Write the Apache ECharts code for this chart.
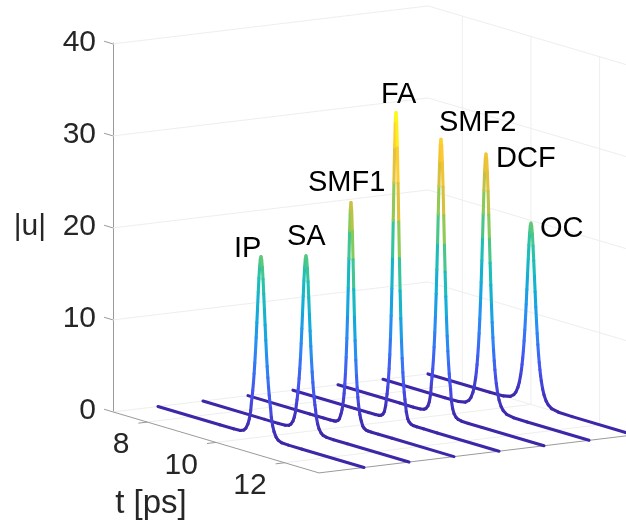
<!DOCTYPE html>
<html>
<head>
<meta charset="utf-8">
<style>html,body{margin:0;padding:0;background:#fff}#c{width:626px;height:525px}</style>
<script src="https://cdn.jsdelivr.net/npm/echarts@6/dist/echarts.min.js"></script>
</head>
<body>
<div id="c"></div>
<script>
// ---------- data ----------
const tTicks = [8, 10, 12];
const uTicks = [0, 10, 20, 30, 40];
const tLimits = [7, 13];
const posLimits = [0, 7];
const pulseNames = ['IP', 'SA', 'SMF1', 'FA', 'SMF2', 'DCF', 'OC'];
const pulsePositions = [1, 2, 3, 4, 5, 6, 7];
const peakTime = 10;
const tSamples = [7,8.8,9.2,9.4,9.5,9.56,9.62,9.66,9.7,9.72,9.74,9.76,9.78,9.8,9.82,9.84,9.86,9.88,9.9,9.92,9.94,9.96,9.98,10,10.02,10.04,10.06,10.08,10.1,10.12,10.14,10.16,10.18,10.2,10.22,10.24,10.26,10.28,10.3,10.34,10.38,10.44,10.5,10.6,10.8,11.2,13];
const uIP = [0,0,0,0.04,0.2,0.47,1,1.6,2.5,3.41,4.04,4.79,5.67,6.68,7.85,9.18,10.67,12.3,13.97,15.65,17.2,18.47,19.31,19.6,19.31,18.47,17.2,15.65,13.97,12.3,10.67,9.18,7.85,6.68,5.67,4.79,4.04,3.41,2.5,1.6,1,0.47,0.2,0.04,0,0,0];
const uSA = [0,0,0,0.03,0.13,0.32,0.71,1.2,1.93,2.64,3.19,3.84,4.63,5.56,6.66,7.95,9.42,11.06,12.84,14.63,16.36,17.79,18.76,19.1,18.76,17.79,16.36,14.63,12.84,11.06,9.42,7.95,6.66,5.56,4.63,3.84,3.19,2.64,1.93,1.2,0.71,0.32,0.13,0.03,0,0,0];
const uSMF1 = [0,0,0,0,0.02,0.06,0.2,0.4,0.89,1.16,1.52,1.98,2.58,3.35,4.37,5.68,7.34,9.43,11.98,14.95,18.17,21.21,23.46,24.3,23.46,21.21,18.17,14.95,11.98,9.43,7.34,5.68,4.37,3.35,2.58,1.98,1.52,1.16,0.89,0.4,0.2,0.06,0.02,0,0,0,0];
const uFA = [0,0,0,0,0.03,0.1,0.3,0.6,1.3,2.02,2.59,3.33,4.26,5.46,6.98,8.9,11.28,14.24,17.74,21.71,25.88,29.71,32.48,33.5,32.48,29.71,25.88,21.71,17.74,14.24,11.28,8.9,6.98,5.46,4.26,3.33,2.59,2.02,1.3,0.6,0.3,0.1,0.03,0,0,0,0];
const uSMF2 = [0,0,0,0.02,0.1,0.25,0.6,1.1,2,3.14,3.87,4.77,5.87,7.2,8.82,10.77,13.06,15.71,18.61,21.8,24.87,27.52,29.35,30,29.35,27.52,24.87,21.8,18.61,15.71,13.06,10.77,8.82,7.2,5.87,4.77,3.87,3.14,2,1.1,0.6,0.25,0.1,0.02,0,0,0];
const uDCF = [0,0,0.03,0.18,0.48,0.84,1.49,2.18,3.18,3.84,4.64,5.59,6.74,8.09,9.7,11.56,13.71,16.1,18.68,21.3,23.81,25.9,27.3,27.8,27.3,25.9,23.81,21.3,18.68,16.1,13.71,11.56,9.7,8.09,6.74,5.59,4.64,3.84,3.18,2.18,1.49,0.84,0.48,0.18,0.03,0,0];
const uOC = [0,0,0.04,0.21,0.51,0.86,1.45,2.04,2.89,3.43,4.06,4.81,5.69,6.72,7.89,9.23,10.73,12.36,14.04,15.72,17.29,18.57,19.4,19.7,19.4,18.57,17.29,15.72,14.04,12.36,10.73,9.23,7.89,6.72,5.69,4.81,4.06,3.43,2.89,2.04,1.45,0.86,0.51,0.21,0.04,0,0];
const pulseValues = [uIP, uSA, uSMF1, uFA, uSMF2, uDCF, uOC];

// ---------- layout and style ----------
const FONT = '"Liberation Sans", Helvetica, Arial, sans-serif';
const TEXT_DARK = '#262626';
const GRID_COLOR = '#eeeeee';
const AXIS_COLOR = '#9a9a9a';
const PARULA = ['#3E26A8','#4752F0','#2D87F7','#11ACDB','#1FC2B0','#7FCB5C','#DDBF3B','#FEC832','#F9FB15'];
const labelOffsets = [[-27,-8],[-19,-19],[-43,-20],[-15,-18],[-2,-16],[10,5],[9,6]];
// oblique view: grid x units per t and per pulse position, grid y units per t and per position
const VIEW = { xPerT: 34.33, xPerPos: 45, yPerT: -1.105, yPerPos: 0.59, yShift: -0.1 };

function project(t, pos, u) {
  const dt = t - tLimits[0];
  return [dt * VIEW.xPerT + pos * VIEW.xPerPos, u + dt * VIEW.yPerT + pos * VIEW.yPerPos + VIEW.yShift];
}

// ---------- box segments ----------
const [t0, t1] = tLimits, [p0, p1] = posLimits;
const uTop = uTicks[uTicks.length - 1];
const gridSegs = [], axisSegs = [];
uTicks.forEach(u => {
  gridSegs.push([t0, p0, u, t0, p1, u], [t0, p1, u, t1, p1, u]);
  axisSegs.push([t0, p0, u, t0 - 0.26, p0, u]);
});
tTicks.forEach(t => {
  gridSegs.push([t, p0, 0, t, p1, 0], [t, p1, 0, t, p1, uTop]);
  axisSegs.push([t, p0, 0, t, p0 - 0.2, 0]);
});
axisSegs.push([t0, p0, 0, t1, p0, 0], [t1, p0, 0, t1, p1, 0]);

function segSeries(name, segs, color) {
  return {
    type: 'custom', name, silent: true, clip: false, data: segs,
    renderItem(params, api) {
      const v = i => api.value(i);
      const a = api.coord(project(v(0), v(1), v(2)));
      const b = api.coord(project(v(3), v(4), v(5)));
      return { type: 'line', shape: { x1: a[0], y1: a[1], x2: b[0], y2: b[1] }, style: { stroke: color, lineWidth: 1 } };
    }
  };
}

const series = [segSeries('grid', gridSegs, GRID_COLOR), segSeries('axes', axisSegs, AXIS_COLOR)];

// pulses: far to near, each segment takes the flat colour of its first sample
const pulseSeriesIdx = [];
for (let k = pulseNames.length - 1; k >= 0; k--) {
  const pos = pulsePositions[k], us = pulseValues[k];
  const rows = [];
  for (let i = 0; i + 1 < tSamples.length; i++) rows.push([tSamples[i], us[i], tSamples[i + 1], us[i + 1]]);
  pulseSeriesIdx.push(series.length);
  series.push({
    type: 'custom', name: pulseNames[k], silent: true, clip: false, data: rows,
    dimensions: ['t', 'u', 't2', 'u2'],
    renderItem(params, api) {
      const a = api.coord(project(api.value(0), pos, api.value(1)));
      const b = api.coord(project(api.value(2), pos, api.value(3)));
      return { type: 'line', shape: { x1: a[0], y1: a[1], x2: b[0], y2: b[1] },
        style: { stroke: api.visual('color'), lineWidth: 3.1, lineCap: 'round' } };
    }
  });
}

// pulse names
series.push({
  type: 'custom', name: 'pulse labels', silent: true, clip: false,
  data: pulseNames.map((n, k) => [k]),
  renderItem(params, api) {
    const k = api.value(0);
    const c = api.coord(project(peakTime, pulsePositions[k], Math.max.apply(null, pulseValues[k])));
    return { type: 'text', style: { text: pulseNames[k], x: c[0] + labelOffsets[k][0], y: c[1] + labelOffsets[k][1],
      fill: '#000', fontSize: 29, fontFamily: FONT, align: 'left', verticalAlign: 'middle' } };
  }
});
// t tick labels + t axis name
series.push({
  type: 'custom', name: 't labels', silent: true, clip: false,
  data: tTicks.map(t => [t]),
  renderItem(params, api) {
    const c = api.coord(project(api.value(0), p0, 0));
    return { type: 'text', style: { text: String(api.value(0)), x: c[0] - 18, y: c[1] + 23,
      fill: TEXT_DARK, fontSize: 30, fontFamily: FONT, align: 'right', verticalAlign: 'middle' } };
  }
});
series.push({
  type: 'custom', name: 't name', silent: true, clip: false,
  data: [[(t0 + t1) / 2]],
  renderItem(params, api) {
    const c = api.coord(project(api.value(0), p0, 0));
    return { type: 'text', style: { text: 't [ps]', x: c[0] - 65, y: c[1] + 61,
      fill: TEXT_DARK, fontSize: 33, fontFamily: FONT, align: 'center', verticalAlign: 'middle' } };
  }
});

const chart = echarts.init(document.getElementById('c'), null, { renderer: 'canvas' });
chart.setOption({
  animation: false,
  backgroundColor: '#fff',
  grid: { left: 113, top: 43, width: 513, height: 368, containLabel: false },
  xAxis: { type: 'value', min: 0, max: 513, show: false },
  yAxis: {
    type: 'value', min: 0, max: uTop, interval: 10,
    axisLine: { show: true, lineStyle: { color: AXIS_COLOR, width: 1 } },
    axisTick: { show: false }, splitLine: { show: false },
    axisLabel: { fontSize: 30, fontFamily: FONT, color: TEXT_DARK, margin: 17, padding: [0, 0, 5, 0] },
    name: '|u|', nameLocation: 'middle', nameRotate: 0, nameGap: 67,
    nameTextStyle: { fontSize: 30, fontFamily: FONT, color: TEXT_DARK }
  },
  visualMap: {
    show: false, type: 'continuous', min: 0, max: 33.5, dimension: 1,
    seriesIndex: pulseSeriesIdx, inRange: { color: PARULA }
  },
  series
});
</script>
</body>
</html>
